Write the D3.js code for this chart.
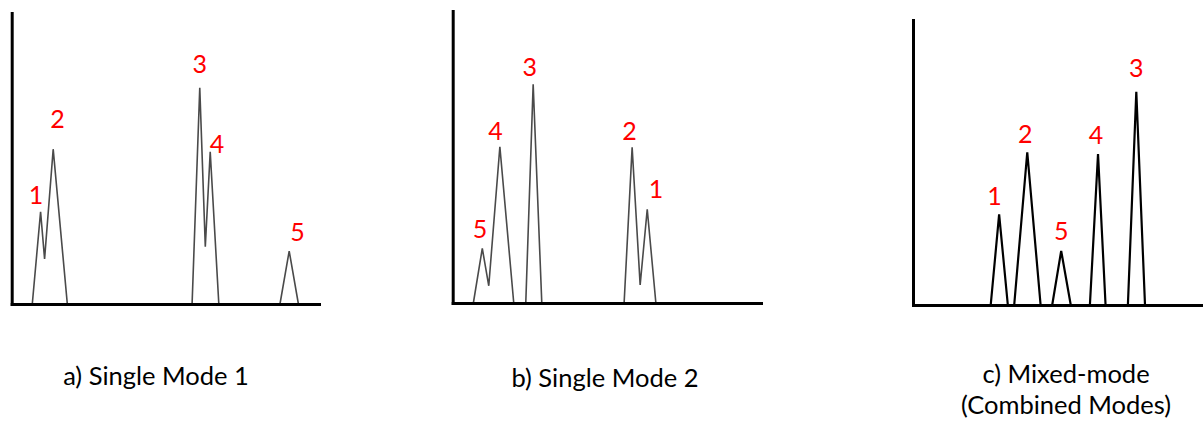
<!DOCTYPE html>
<html>
<head>
<meta charset="utf-8">
<script src="https://cdn.jsdelivr.net/npm/d3@7/dist/d3.min.js"></script>
<style>
  html, body { margin: 0; padding: 0; background: #fff; }
  svg { display: block; }
</style>
</head>
<body>
<svg id="chart" width="1203" height="423"></svg>
<script>
// Peak identifiers shared by all three chromatograms
const peakIds = ["1", "2", "3", "4", "5"];

// a) Single Mode 1 — traces (retention position, intensity), overlapping peaks share one trace
const modeOneTraceX = [[6.7, 9.4, 10.7, 13.5, 18.1], [58.7, 61.2, 63.0, 64.6, 67.4], [87.3, 90.3, 93.3]];
const modeOneTraceY = [[0, 31.7, 15.5, 53.2, 0], [0, 74.3, 19.7, 52.3, 0], [0, 18.2, 0]];
// peak id -> [trace, point] of its apex
const modeOneApex = [[0, 1], [0, 3], [1, 1], [1, 3], [2, 1]];

// b) Single Mode 2
const modeTwoTraceX = [[6.7, 9.6, 11.7, 15.3, 19.8], [23.7, 26.1, 28.9], [55.6, 58.2, 60.8, 63.1, 65.9]];
const modeTwoTraceY = [[0, 18.7, 5.9, 53.5, 0], [0, 74.9, 0], [0, 53.3, 6.2, 32.1, 0]];
const modeTwoApex = [[2, 3], [2, 1], [1, 1], [0, 3], [0, 1]];

// c) Mixed-mode (Combined Modes) — fully resolved peaks
const mixedTraceX = [[26.8, 29.7, 32.7], [34.9, 39.4, 44.0], [74.1, 77.0, 80.0], [61.0, 63.8, 66.4], [48.0, 51.1, 54.4]];
const mixedTraceY = [[0, 31.8, 0], [0, 53.6, 0], [0, 74.8, 0], [0, 53.0, 0], [0, 19.0, 0]];
const mixedApex = [[0, 1], [1, 1], [2, 1], [3, 1], [4, 1]];

// Captions
const captions = [["a) Single Mode 1"], ["b) Single Mode 2"], ["c) Mixed-mode", "(Combined Modes)"]];

// ---- layout ----
const panels = [
  { traceX: modeOneTraceX, traceY: modeOneTraceY, apex: modeOneApex,
    left: 11.7, right: 319, base: 304, top: 13,
    stroke: "#4a4a4a", width: 1.6,
    labelOffset: [[-4.7, -17.7], [4.4, -31], [0, -24.5], [6.7, -9], [8.4, -20.5]],
    captionX: 156, captionY: 385 },
  { traceX: modeTwoTraceX, traceY: modeTwoTraceY, apex: modeTwoApex,
    left: 452.7, right: 761, base: 303, top: 11,
    stroke: "#4a4a4a", width: 1.6,
    labelOffset: [[8.7, -21], [-2.7, -17.3], [-3.3, -18.3], [-4.3, -16.7], [-2.3, -20.6]],
    captionX: 605, captionY: 387 },
  { traceX: mixedTraceX, traceY: mixedTraceY, apex: mixedApex,
    left: 913, right: 1203, base: 305, top: 20,
    stroke: "#000", width: 2.2,
    labelOffset: [[-4.7, -19.3], [-2, -19], [0, -24.4], [-2, -20], [0, -20.7]],
    captionX: 1066, captionY: 383 }
];

const svg = d3.select("#chart");
const font = "Lato, 'Open Sans', sans-serif";
const captionLineGap = 31;

panels.forEach((p, pi) => {
  const x = d3.scaleLinear().domain([0, 100]).range([p.left, p.right]);
  const y = d3.scaleLinear().domain([0, 100]).range([p.base, p.top]);
  const g = svg.append("g");

  const line = d3.line().x(d => x(d[0])).y(d => y(d[1]));
  const traces = p.traceX.map((xs, i) => xs.map((v, j) => [v, p.traceY[i][j]]));

  g.selectAll("path.trace")
    .data(traces)
    .join("path")
    .attr("class", "trace")
    .attr("d", line)
    .attr("fill", "none")
    .attr("stroke", p.stroke)
    .attr("stroke-width", p.width)
    .attr("stroke-linejoin", "miter");

  // axes without ticks
  const xAxis = d3.axisBottom(x).tickValues([]).tickSizeOuter(0);
  const yAxis = d3.axisLeft(y).tickValues([]).tickSizeOuter(0);
  g.append("g").attr("transform", `translate(0,${p.base})`).call(xAxis)
    .select(".domain").attr("stroke", "#000").attr("stroke-width", 3).attr("stroke-linecap", "square");
  g.append("g").attr("transform", `translate(${p.left},0)`).call(yAxis)
    .select(".domain").attr("stroke", "#000").attr("stroke-width", 3).attr("stroke-linecap", "square");

  // peak labels
  g.selectAll("text.peak")
    .data(peakIds)
    .join("text")
    .attr("class", "peak")
    .attr("x", (d, i) => x(traces[p.apex[i][0]][p.apex[i][1]][0]) + p.labelOffset[i][0])
    .attr("y", (d, i) => y(traces[p.apex[i][0]][p.apex[i][1]][1]) + p.labelOffset[i][1])
    .attr("text-anchor", "middle")
    .attr("dominant-baseline", "central")
    .attr("fill", "#ff0000")
    .attr("font-family", font)
    .attr("font-size", 25)
    .text(d => d);

  // caption
  g.selectAll("text.caption")
    .data(captions[pi])
    .join("text")
    .attr("class", "caption")
    .attr("x", p.captionX)
    .attr("y", (d, i) => p.captionY + i * captionLineGap)
    .attr("text-anchor", "middle")
    .attr("fill", "#000")
    .attr("font-family", font)
    .attr("font-size", 25.5)
    .text(d => d);
});
</script>
</body>
</html>
